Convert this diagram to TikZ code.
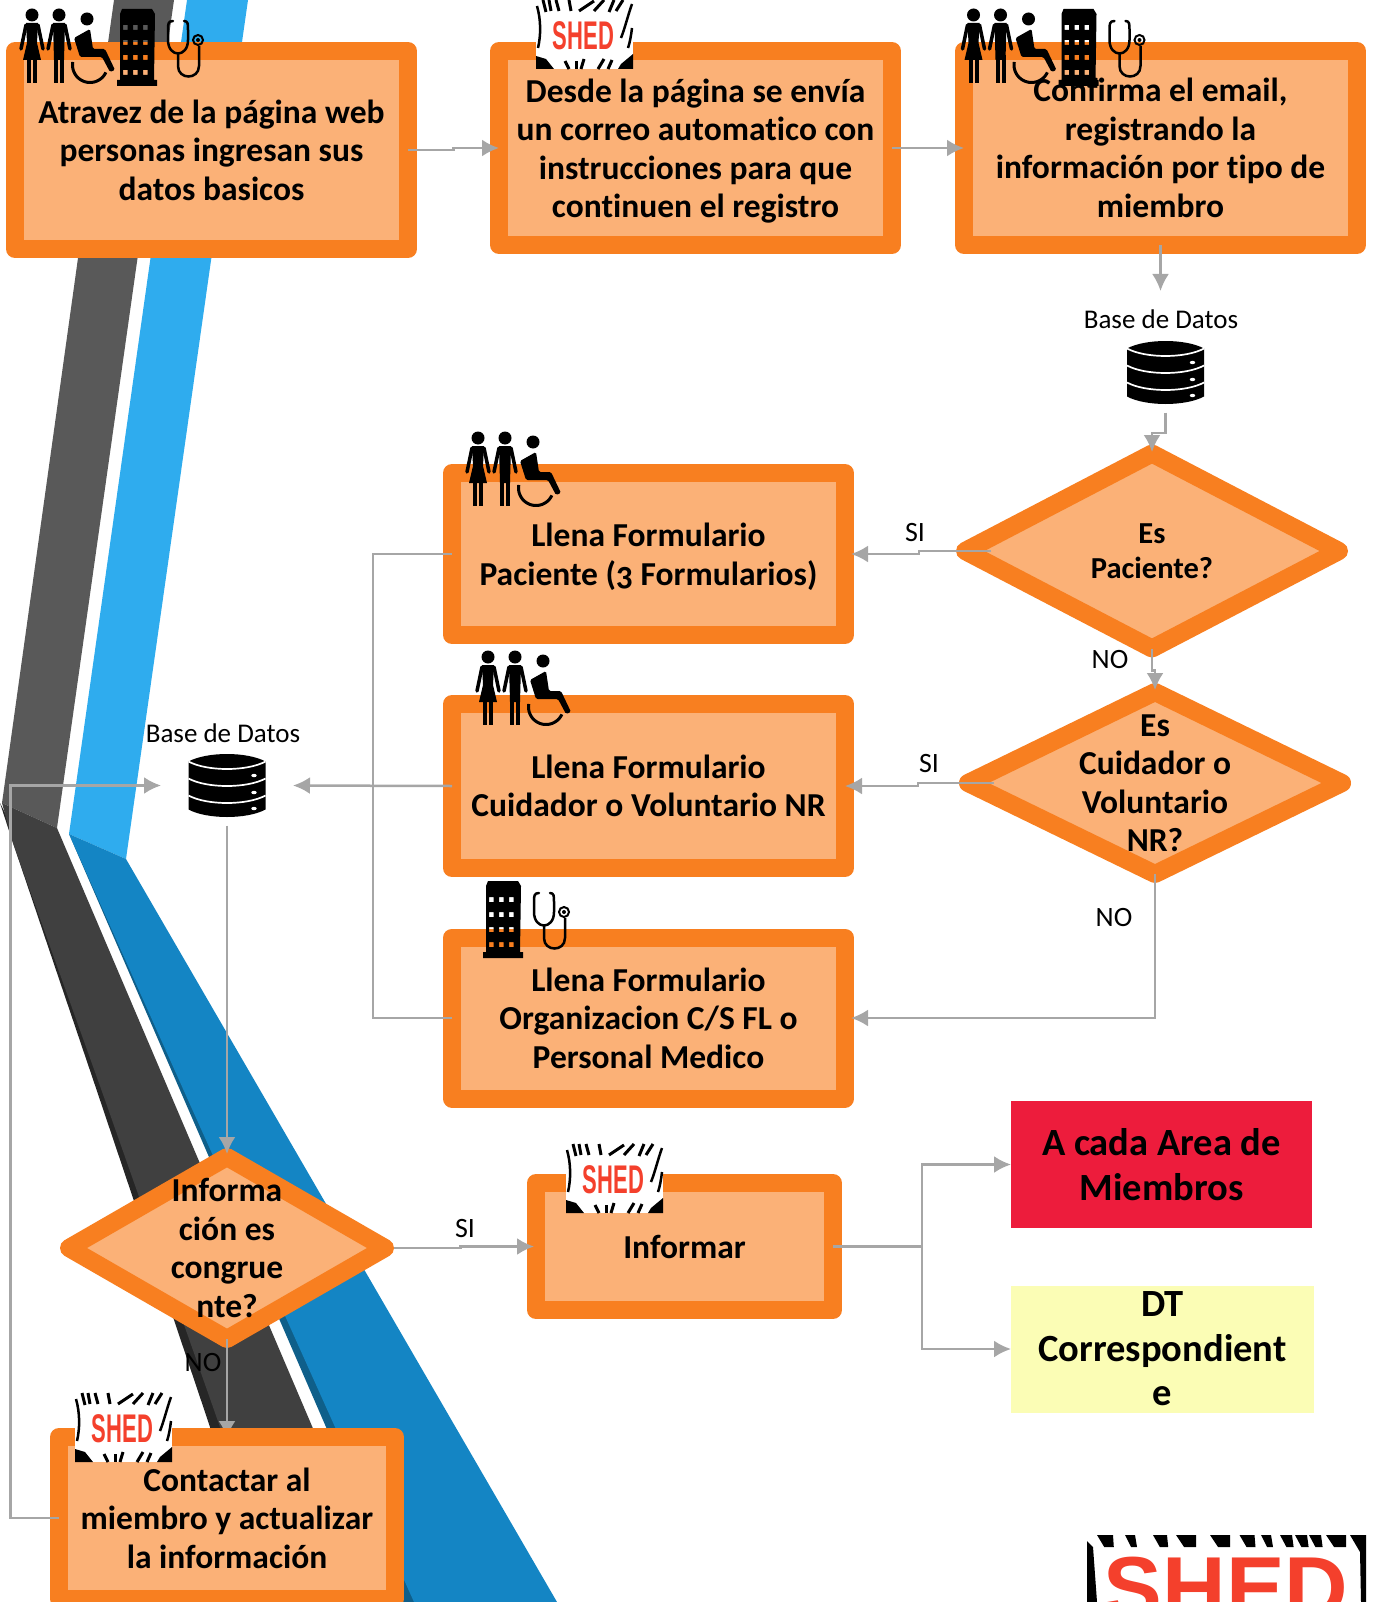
\documentclass[tikz,border=0pt]{standalone}
\usepackage{fontspec}
\usepackage{graphicx}
\setmainfont{Carlito}[Numbers=OldStyle, Ligatures=NoCommon]
\newfontfamily\shedfont{Liberation Sans}
\usetikzlibrary{shapes.geometric,arrows.meta,calc}

\definecolor{naranja}{HTML}{F87F20}
\definecolor{relleno}{HTML}{FBB177}
\definecolor{linea}{HTML}{A6A6A6}
\definecolor{rojo}{HTML}{ED1C3C}
\definecolor{amarillo}{HTML}{FBFDB5}
\definecolor{rojoshed}{HTML}{F4402C}
\definecolor{grismedio}{HTML}{595959}
\definecolor{grisoscuro}{HTML}{404040}
\definecolor{grisfilo}{HTML}{262626}
\definecolor{azulclaro}{HTML}{2FACEE}
\definecolor{azulmedio}{HTML}{1485C4}
\definecolor{azulfilo}{HTML}{0F5F8A}

\tikzset{
    caja/.style={draw=naranja, fill=relleno, line width=18pt, line join=round, outer sep=0pt,
        align=center, font=\fontsize{33.5}{38.5}\selectfont\bfseries},
    rombo/.style={draw=naranja, fill=relleno, line width=18pt, shape=diamond, inner sep=0pt,
        outer sep=0pt, line join=round},
    rombotexto/.style={align=center, font=\fontsize{33.5}{38.5}\selectfont\bfseries},
    nota/.style={align=center, text=black, inner sep=0pt, outer sep=0pt,
        font=\fontsize{38.5}{44.5}\selectfont\bfseries},
    etiqueta/.style={font=\fontsize{28}{30}\selectfont},
    base/.style={minimum width=132pt, minimum height=80pt, inner sep=0pt, outer sep=0pt},
    conector/.style={draw=linea, line width=2.5pt, -{Latex[length=17pt,width=17pt]}},
    tramo/.style={draw=linea, line width=2.5pt},
    pics/personas/.style={code={
        % mujer
        \fill (32,15) circle (6.5);
        \fill (26,23) -- (38,23) -- (37,43) -- (41,60) -- (23,60) -- (27,43) -- cycle;
        \fill (27,59) rectangle (31,83);
        \fill (33,59) rectangle (37,83);
        \draw[line width=3.5pt, line cap=round] (26,25) -- (21,49);
        \draw[line width=3.5pt, line cap=round] (38,25) -- (43,49);
        % hombre
        \fill (59,15) circle (6.5);
        \fill (53,23) -- (65,23) -- (64,60) -- (54,60) -- cycle;
        \fill (54,55) rectangle (58,83);
        \fill (60,55) rectangle (64,83);
        \draw[line width=3.5pt, line cap=round] (53,25) -- (48,49);
        \draw[line width=3.5pt, line cap=round] (65,25) -- (70,49);
        % silla
        \fill (87,19) circle (6.5);
        \fill[rounded corners=1.5pt] (74,38) -- (90,29) -- (93,49) -- (105,49) -- (115,70) -- (110,72)
            -- (102,57) -- (80,57) -- cycle;
        \draw[line width=3pt] plot[smooth, domain=25:190, samples=30] ({90+17.5*cos(\x)},{65+17.5*sin(\x)});
    }},
    pics/medico/.style={code={
        % edificio
        \fill[even odd rule] (122,9) -- (152,9) -- (155,14) -- (154,80) -- (157,80) -- (157,86)
            -- (117,86) -- (117,80) -- (120,80) -- (120,14) -- cycle
            \foreach \col in {123,133,143} { \foreach \fila in {25,40,55,70} {
                (\col,\fila) rectangle ++(4.5,5) } };
        % estetoscopio
        \draw[line width=2.5pt, line cap=round, line join=round]
            (173,21) .. controls (168,21) and (168,24) .. (168,30) -- (168,40)
            .. controls (168,58) and (188,58) .. (188,40) -- (188,30)
            .. controls (188,24) and (188,21) .. (184,21);
        \draw[line width=2.5pt] (178,54) -- (178,66) .. controls (178,80) and (199,80) .. (199,66) -- (199,46);
        \draw[line width=2pt] (198,40) circle (5);
        \fill (198,40) circle (2);
    }},
    pics/basedatos/.style={code={
        \fill (-38.5,-24) .. controls (-20,-34) and (20,-34) .. (38.5,-24) -- (38.5,24)
            .. controls (20,34) and (-20,34) .. (-38.5,24) -- cycle;
        \foreach \alto in {-24,-7,10} {
            \draw[white, line width=1.7pt] (-38.5,\alto) .. controls (-20,\alto+10) and (20,\alto+10) .. (38.5,\alto);
        }
        \foreach \alto in {-10,7,23} {
            \fill[white] (27,\alto) ellipse (2.7 and 1.7);
        }
    }},
    pics/shed/.style={code={
        \fill[white] (0,0) rectangle (97,69);
        % rayas de arriba
        \foreach \xa/\ya/\xb/\yb in {7/0/10/12, 13/0/15/11, 20/0/23/11, 33/0/35/11, 58/1/43/11, 68/0/58/11, 78/0/73/12, 87/0/80/11} {
            \draw[line width=3pt] (\xa,\ya) -- (\xb,\yb);
        }
        % rayas de los lados
        \draw[line width=2.5pt] (1,6) .. controls (5,20) and (5,35) .. (2,48);
        \draw[line width=2.5pt] (96,4) .. controls (92,15) and (89,28) .. (85,38);
        \draw[line width=2.5pt] (96,28) .. controls (95,36) and (94,42) .. (92,48);
        % rayas de abajo
        \fill (0,56) -- (10,59) -- (18,69) -- (0,69) -- cycle;
        \foreach \xa/\ya/\xb/\yb in {29/61/33/69, 40/61/40/69, 48/59/45/69, 68/59/62/69, 76/60/72/69} {
            \draw[line width=3pt] (\xa,\ya) -- (\xb,\yb);
        }
        \fill (97,54) -- (85,64) -- (82,69) -- (97,69) -- cycle;
        \draw (47.5,36) node[text=rojoshed, inner sep=0pt, font=\fontsize{40}{40}\shedfont\bfseries] {\scalebox{.55}[1]{SHED}};
    }},
}

\begin{document}
\begin{tikzpicture}[x=1pt, y=-1pt]
    \useasboundingbox (0,0) rectangle (1375,1602);
    \clip (0,0) rectangle (1375,1602);

    % franjas del fondo
    \fill[grismedio] (114,0) -- (174,0) -- (57,828) -- (2,803) -- cycle;
    \fill[azulclaro] (187,0) -- (248,0) -- (126,859) -- (69,834) -- cycle;
    \fill[grisfilo] (0,803) -- (13,843) -- (100,1100) -- (210,1427) -- (268,1602) -- (300,1602) -- (100,1000) -- cycle;
    \fill[grisoscuro] (2,803) -- (57,828) -- (387,1602) -- (281,1602) -- (220,1427) -- (105,1100) -- (13,843) -- cycle;
    \fill[azulfilo] (69,834) -- (326,1427) -- (402,1602) -- (430,1602) -- (200,1100) -- cycle;
    \fill[azulmedio] (69,834) -- (126,859) -- (557,1602) -- (414,1602) -- (335,1427) -- (188,1100) -- cycle;

    % cajas
    \draw (211.5,150) node[caja, minimum width=393pt, minimum height=198pt] (datos) {Atravez de la página web\\personas ingresan sus\\datos basicos};
    \draw (695.5,148) node[caja, minimum width=393pt, minimum height=194pt] (correo) {Desde la página se envía\\un correo automatico con\\instrucciones para que\\\smash{continuen el registro}};
    \draw (1160.5,148) node[caja, minimum width=393pt, minimum height=194pt] (confirma) {Confirma el email,\\registrando la\\información por tipo de\\miembro};
    \draw (648.5,554) node[caja, minimum width=393pt, minimum height=162pt] (paciente) {Llena Formulario\\\smash{Paciente (3 Formularios)}};
    \draw (648.5,786) node[caja, minimum width=393pt, minimum height=164pt] (cuidador) {Llena Formulario\\Cuidador o Voluntario NR};
    \draw (648.5,1018) node[caja, minimum width=393pt, minimum height=161pt] (organizacion) {Llena Formulario\\Organizacion C/S FL o\\Personal Medico};
    \draw (684.5,1246.5) node[caja, minimum width=297pt, minimum height=127pt] (informar) {Informar};

    % rombos
    \draw (1152,551) node[rombo, minimum width=374pt, minimum height=195pt] (espaciente) {};
    \draw (1155,783) node[rombo, minimum width=374pt, minimum height=182pt] (escuidador) {};
    \draw (227,1248) node[rombo, minimum width=316pt, minimum height=182pt] (esinforma) {};
    \draw (espaciente) node[rombotexto, font=\fontsize{30.5}{34.5}\selectfont\bfseries] (espacientetxt) {Es\\Paciente?};
    \draw (escuidador) node[rombotexto] (escuidadortxt) {Es\\Cuidador o\\Voluntario\\NR?};
    \draw (esinforma) node[rombotexto] (esinformatxt) {Informa\\ción es\\congrue\\nte?};

    % notas
    \draw (1161.5,1164.5) node[nota, fill=rojo, minimum width=301pt, minimum height=127pt] (area) {A cada Area de\\Miembros};
    \draw (1162.5,1349) node[nota, fill=amarillo, minimum width=303pt, minimum height=127pt] (dt) {DT\\Correspondient\\e};

    % bases de datos
    \draw (1165.5,372.5) node[base] (base1) {};
    \draw (227,785.5) node[base] (base2) {};
    \pic at (base1) {basedatos};
    \pic at (base2) {basedatos};
    \draw (1161,319) node[etiqueta, font=\fontsize{27}{30}\selectfont] (base1txt) {Base de Datos};
    \draw (223,733) node[etiqueta, font=\fontsize{27}{30}\selectfont] (base2txt) {Base de Datos};

    % iconos
    \pic at (0,0) {personas};
    \pic at (0,0) {medico};
    \pic at (941.5,0) {personas};
    \pic at (941.5,0) {medico};
    \pic at (446,423) {personas};
    \pic at (456,642) {personas};
    \pic at (366,872) {medico};
    \pic at (536,0) {shed};
    \pic at (566,1144) {shed};

    % logo grande
    \fill (1087,1541) -- (1093,1547) -- (1097,1602) -- (1087,1602) -- cycle;
    \foreach \x/\w in {1107/8, 1132/5, 1162/7, 1188/10, 1222/10, 1249/7.5, 1268/5, 1288/6, 1303/6, 1317/6, 1338/10} {
        \fill (\x-\w-2,1535) -- (\x+\w-2,1535) -- (\x+.6*\w+2,1547) -- (\x-.6*\w+2,1547) -- cycle;
    }
    \fill (1350,1535) -- (1366,1535) -- (1366,1602) -- (1361,1602) -- (1360,1552) -- cycle;
    \draw (1226,1557) node[anchor=north, text=rojoshed, inner sep=0pt, font=\fontsize{88}{88}\shedfont\bfseries] (logo) {SHED};

    % conectores
    \coordinate (contacto) at (227,1438);
    \coordinate (bus) at (373,785.5);
    \coordinate (lazo) at (10.5,1100);
    \coordinate (entrada) at (1160.5,291);
    \coordinate (codo1) at (919,552);
    \coordinate (codo2) at (918,784);
    \coordinate (reparto) at (922,1246.5);
    \draw[conector] (datos.east) -| ($(datos.east)!.5!(correo.west)$) |- (correo.west);
    \draw[conector] (correo.east) -- (confirma.west);
    \draw[conector] (confirma.south) -- (entrada);
    \draw[conector] (base1.south) |- ($(base1.south)!.5!(espaciente.north)$) -| ([yshift=1.5pt]espaciente.north);
    \draw[conector] ([xshift=26pt]espaciente.west) -| (codo1) |- ([xshift=6pt]paciente.east);
    \draw[conector] (espaciente.south) |- ($(espaciente.south)!.5!(escuidador.north)$) -| ([yshift=2pt]escuidador.north);
    \draw[conector] ([xshift=26pt]escuidador.west) -| (codo2) |- (cuidador.east);
    \draw[conector] (escuidador.south) |- ([xshift=6pt]organizacion.east);
    \draw[conector] (cuidador.west) -- (base2.east);
    \draw[tramo] (paciente.west) -| (bus) |- (organizacion.west);
    \draw[conector] (base2.south) -- ([yshift=3pt]esinforma.north);
    \draw[conector] ([xshift=9pt]esinforma.east) -| ($(esinforma.east)!.5!(informar.west)$) |- ([xshift=-2pt]informar.west);
    \draw[conector] (informar.east) -| (reparto) |- (area.west);
    \draw[conector] (informar.east) -| (reparto) |- (dt.west);
    \draw[conector] (esinforma.south) -- (contacto);

    \draw (227,1518) node[caja, minimum width=336pt, minimum height=162pt] (contactar) {Contactar al\\miembro y actualizar\\la información};
    \pic at (75,1393) {shed};
    \draw[conector] (contactar.west) -| (lazo) |- (base2.west);

    % etiquetas de conectores
    \draw (915,533) node[etiqueta] (si1) {SI};
    \draw (1110,660) node[etiqueta] (no1) {NO};
    \draw (929,764) node[etiqueta] (si2) {SI};
    \draw (1114,918) node[etiqueta] (no2) {NO};
    \draw (465,1228) node[etiqueta] (si3) {SI};
    \draw (203,1362) node[etiqueta] (no3) {NO};
\end{tikzpicture}
\end{document}
